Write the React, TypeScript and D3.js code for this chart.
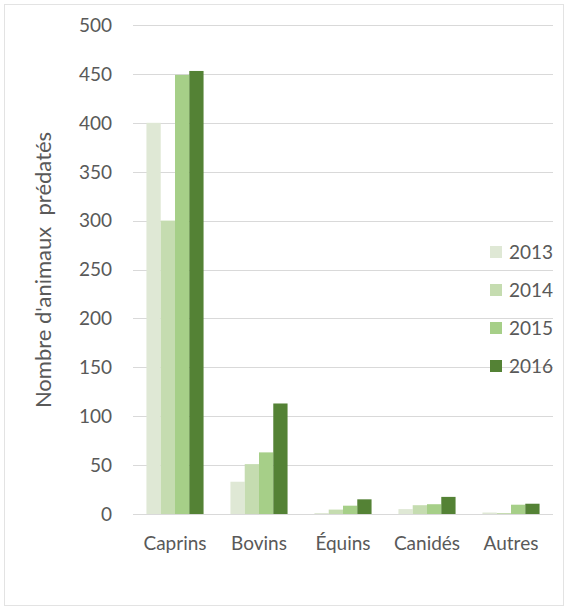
import React from 'react';
import * as d3 from 'd3';

const categories = ['Caprins', 'Bovins', 'Équins', 'Canidés', 'Autres'];
const years = ['2013', '2014', '2015', '2016'];
const values2013 = [400, 33, 1, 5, 1.5];
const values2014 = [300, 51, 4.5, 9, 1];
const values2015 = [449, 63, 8.5, 10, 9.5];
const values2016 = [453, 113, 15, 17.5, 10.5];
const yTicks = [0, 50, 100, 150, 200, 250, 300, 350, 400, 450, 500];
const colors = ['#dfe8d5', '#c5dcb0', '#a6cf88', '#548235'];

const series = [values2013, values2014, values2015, values2016];

const W = 564;
const H = 610;
const margin = { top: 25, right: 11, bottom: 96, left: 133 };
const FONT = 'Lato, "Open Sans", sans-serif';
const TEXT = '#595959';

export default function App() {
  const innerW = W - margin.left - margin.right;
  const innerH = H - margin.top - margin.bottom;

  const x0 = d3.scaleBand<string>().domain(categories).range([0, innerW]).paddingInner(0.32).paddingOuter(0.16);
  const x1 = d3.scaleBand<string>().domain(years).range([0, x0.bandwidth()]).padding(0);
  const y = d3.scaleLinear().domain([0, 500]).range([innerH, 0]);

  const legendY = d3.scalePoint<string>().domain(years).range([252, 366]);

  return (
    <svg width={W} height={H} style={{ position: 'absolute', left: 0, top: 0, background: '#fff' }}>
      <rect x={4.5} y={4.5} width={559} height={601} fill="#fff" stroke="#e3e3e3" strokeWidth={1} />
      <g transform={`translate(${margin.left},${margin.top})`}>
        {/* Gridlines */}
        {yTicks.map((t) => (
          <line key={t} x1={0} x2={innerW} y1={Math.round(y(t)) + 0.5} y2={Math.round(y(t)) + 0.5}
            stroke="#d9d9d9" strokeWidth={1} />
        ))}
        {/* Bars */}
        {categories.map((c, ci) => (
          <g key={c} transform={`translate(${x0(c)},0)`}>
            {years.map((yr, si) => (
              <rect key={yr} x={x1(yr)} y={y(series[si][ci])} width={x1.bandwidth()}
                height={innerH - y(series[si][ci])} fill={colors[si]} />
            ))}
          </g>
        ))}
        {/* Y tick labels */}
        {yTicks.map((t) => (
          <text key={t} x={-21} y={y(t)} dy="0.36em" textAnchor="end" fontSize={19}
            fontFamily={FONT} fill={TEXT}>{t}</text>
        ))}
        {/* X labels */}
        {categories.map((c) => (
          <text key={c} x={x0(c)! + x0.bandwidth() / 2} y={innerH + 36} textAnchor="middle"
            fontSize={19} fontFamily={FONT} fill={TEXT}>{c}</text>
        ))}
      </g>
      {/* Y axis title */}
      <text transform="translate(51,270) rotate(-90)" textAnchor="middle" fontSize={22}
        fontFamily={FONT} fill={TEXT} style={{ whiteSpace: 'pre' }}>
        Nombre d'animaux  prédatés
      </text>
      {/* Legend */}
      {years.map((yr, i) => (
        <g key={yr} transform={`translate(490,${legendY(yr)})`}>
          <rect x={0} y={-6} width={12} height={12} fill={colors[i]} />
          <text x={19} y={0} dy="0.36em" fontSize={19} fontFamily={FONT} fill={TEXT}>{yr}</text>
        </g>
      ))}
    </svg>
  );
}
